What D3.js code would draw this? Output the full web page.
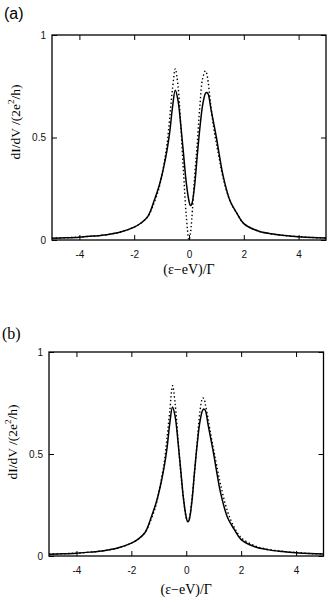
<!DOCTYPE html>
<html lang="en">
	<head>
		<meta charset="utf-8">
		<title>dI/dV panels</title>
		<script type="text/javascript" src="https://cdn.jsdelivr.net/npm/d3@7"></script>
		<style type="text/css">
			body { margin: 0; background: #fff; }
			.axis path { display: none; }
			.axis line { stroke: #000; }
			.axis text { fill: #111; font-family: "Liberation Sans", Arial, sans-serif; }
		</style>
	</head>
	<body>
		<script type="text/javascript">

			// shared x grid, (eps - eV)/Gamma
			var xs = [-5, -4.5, -4, -3.5, -3, -2.5, -2, -1.75, -1.5, -1.25, -1.1, -1, -0.9, -0.8, -0.7, -0.6, -0.5, -0.4, -0.3, -0.2, -0.1, 0, 0.05, 0.1, 0.2, 0.3, 0.4, 0.5, 0.6, 0.65, 0.7, 0.8, 0.9, 1, 1.1, 1.25, 1.5, 1.75, 2, 2.5, 3, 3.5, 4, 4.5, 5];

			// panel (a)
			var aSolid = [0.009, 0.011, 0.014, 0.019, 0.026, 0.039, 0.063, 0.083, 0.115, 0.20, 0.26, 0.31, 0.37, 0.44, 0.53, 0.65, 0.73, 0.68, 0.56, 0.42, 0.28, 0.19, 0.168, 0.175, 0.26, 0.41, 0.55, 0.66, 0.715, 0.72, 0.712, 0.64, 0.57, 0.50, 0.42, 0.31, 0.19, 0.13, 0.08, 0.045, 0.03, 0.022, 0.016, 0.012, 0.01];
			var aDotted = [0.009, 0.011, 0.014, 0.019, 0.026, 0.039, 0.063, 0.083, 0.115, 0.19, 0.25, 0.31, 0.38, 0.47, 0.60, 0.74, 0.835, 0.75, 0.56, 0.33, 0.12, 0.0, 0.03, 0.10, 0.30, 0.47, 0.66, 0.79, 0.825, 0.81, 0.77, 0.65, 0.55, 0.47, 0.40, 0.30, 0.19, 0.13, 0.08, 0.045, 0.03, 0.022, 0.016, 0.012, 0.01];

			// panel (b)
			var bSolid = [0.009, 0.011, 0.014, 0.019, 0.026, 0.039, 0.063, 0.083, 0.115, 0.20, 0.26, 0.31, 0.37, 0.44, 0.53, 0.65, 0.73, 0.68, 0.56, 0.42, 0.28, 0.19, 0.168, 0.175, 0.26, 0.41, 0.55, 0.66, 0.715, 0.72, 0.712, 0.64, 0.57, 0.50, 0.42, 0.31, 0.19, 0.13, 0.08, 0.045, 0.03, 0.022, 0.016, 0.012, 0.01];
			var bDotted = [0.009, 0.011, 0.014, 0.019, 0.026, 0.039, 0.063, 0.083, 0.115, 0.19, 0.25, 0.31, 0.38, 0.46, 0.58, 0.71, 0.835, 0.74, 0.57, 0.41, 0.28, 0.185, 0.17, 0.18, 0.27, 0.41, 0.56, 0.71, 0.775, 0.77, 0.74, 0.67, 0.59, 0.52, 0.45, 0.35, 0.22, 0.14, 0.09, 0.05, 0.032, 0.023, 0.017, 0.012, 0.01];

			var xTicks = [-4, -2, 0, 2, 4];
			var yTicks = [0, 0.5, 1];
			var yTickLabels = ["0", "0.5", "1"];

			var w = 327;
			var h = 599;

			var svg = d3.select("body")
				.append("svg")
				.attr("width", w)
				.attr("height", h);

			function drawPanel(p) {
				var xScale = d3.scaleLinear()
					.domain([-5, 5])
					.range([p.left, p.right]);

				var yScale = d3.scaleLinear()
					.domain([0, 1])
					.range([p.bottom, p.top]);

				var g = svg.append("g");

				// bottom axis with labels, ticks pointing inward
				g.append("g")
					.attr("class", "axis")
					.attr("transform", "translate(0," + p.bottom + ")")
					.attr("font-size", 13)
					.call(d3.axisBottom(xScale).tickValues(xTicks).tickSize(-5).tickPadding(10.5)
						.tickFormat(function(d) { return d; }));

				// top mirror ticks
				g.append("g")
					.attr("class", "axis")
					.attr("transform", "translate(0," + p.top + ")")
					.call(d3.axisTop(xScale).tickValues(xTicks).tickSize(-5).tickFormat(""));

				// left axis
				g.append("g")
					.attr("class", "axis")
					.attr("transform", "translate(" + p.left + ",0)")
					.attr("font-size", 13)
					.call(d3.axisLeft(yScale).tickValues(yTicks).tickSize(-5).tickPadding(6)
						.tickFormat(function(d, i) { return yTickLabels[i]; }));

				// right mirror ticks
				g.append("g")
					.attr("class", "axis")
					.attr("transform", "translate(" + p.right + ",0)")
					.call(d3.axisRight(yScale).tickValues(yTicks).tickSize(-5).tickFormat(""));

				var line = d3.line()
					.x(function(d, i) { return xScale(xs[i]); })
					.y(function(d) { return yScale(d); })
					.curve(d3.curveCatmullRom.alpha(0.5));

				g.append("path")
					.datum(p.dotted)
					.attr("d", line)
					.attr("fill", "none")
					.attr("stroke", "#000")
					.attr("stroke-width", 1.4)
					.attr("stroke-dasharray", "1.4,2.4");

				g.append("path")
					.datum(p.solid)
					.attr("d", line)
					.attr("fill", "none")
					.attr("stroke", "#000")
					.attr("stroke-width", 1.5);

				// frame
				g.append("rect")
					.attr("x", p.left)
					.attr("y", p.top)
					.attr("width", p.right - p.left)
					.attr("height", p.bottom - p.top)
					.attr("fill", "none")
					.attr("stroke", "#000")
					.attr("stroke-width", 1.3);

				// x axis title
				g.append("text")
					.attr("x", (p.left + p.right) / 2)
					.attr("y", p.bottom + p.xLabelDy)
					.attr("text-anchor", "middle")
					.attr("font-family", "'Liberation Serif', 'Times New Roman', serif")
					.attr("font-size", 14)
					.text("(\u03b5\u2212eV)/\u0393");

				// y axis title
				var yl = g.append("text")
					.attr("transform", "translate(" + p.yLabelX + "," + p.yLabelY + ") rotate(-90)")
					.attr("text-anchor", "middle")
					.attr("dominant-baseline", "middle")
					.attr("font-family", "'Liberation Serif', 'Times New Roman', serif")
					.attr("font-size", 13.5);
				yl.append("tspan").text("dI/dV /(2e");
				yl.append("tspan").attr("dy", -5).attr("font-size", 9).text("2");
				yl.append("tspan").attr("dy", 5).text("/h)");

				// panel tag
				g.append("text")
					.attr("x", p.tagX)
					.attr("y", p.tagY)
					.attr("font-family", p.tagFont)
					.attr("font-size", 16)
					.text(p.tag);
			}

			drawPanel({
				left: 52, right: 326, top: 35, bottom: 240,
				solid: aSolid, dotted: aDotted,
				xLabelDy: 34, yLabelX: 17, yLabelY: 122,
				tag: "(a)", tagX: 4, tagY: 19,
				tagFont: "'Liberation Sans', Arial, sans-serif"
			});

			drawPanel({
				left: 49, right: 323.5, top: 352, bottom: 556,
				solid: bSolid, dotted: bDotted,
				xLabelDy: 38, yLabelX: 14, yLabelY: 442,
				tag: "(b)", tagX: 2, tagY: 339,
				tagFont: "'Liberation Serif', 'Times New Roman', serif"
			});

		</script>
	</body>
</html>
